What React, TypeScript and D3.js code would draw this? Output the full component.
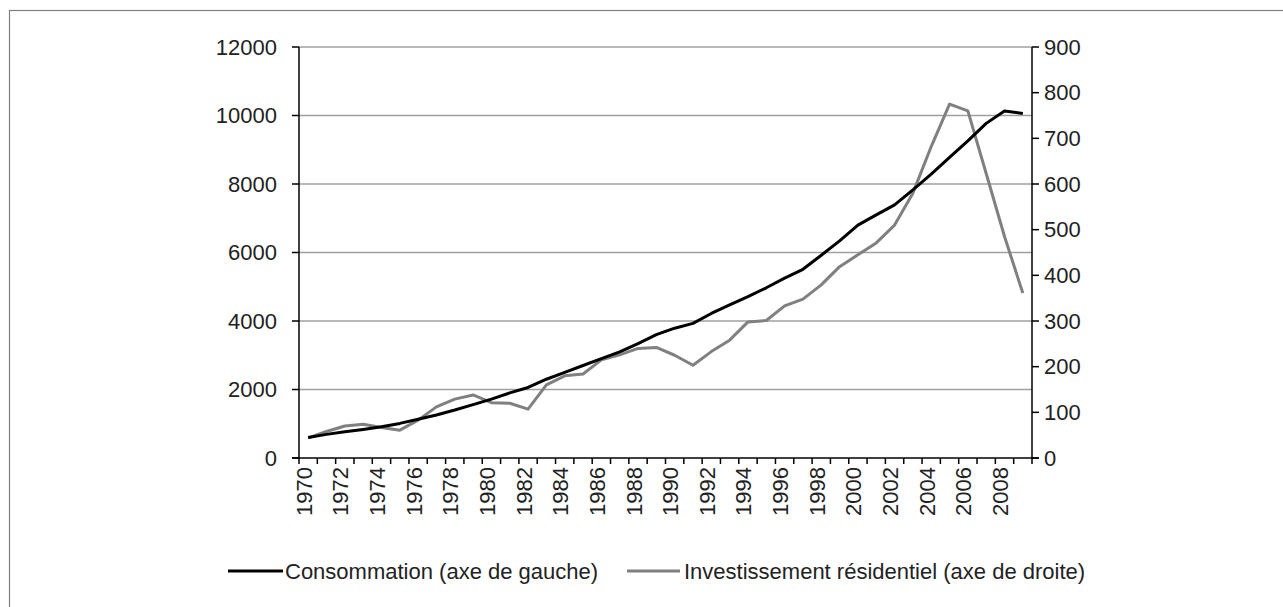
import React from "react";
import * as d3 from "d3";

const years: number[] = d3.range(1970, 2010);
const consommation: number[] = [
  600, 690, 765, 835, 910, 1010, 1130, 1255, 1400, 1560,
  1720, 1900, 2060, 2300, 2500, 2700, 2900, 3100, 3340, 3600,
  3790, 3930, 4220, 4470, 4710, 4970, 5250, 5510, 5920, 6340,
  6800, 7100, 7390, 7830, 8290, 8780, 9260, 9770, 10130, 10060,
];
const investissement: number[] = [
  44, 58, 70, 74, 67, 61, 83, 112, 129, 138,
  121, 120, 107, 160, 180, 184, 215, 226, 240, 242,
  225, 203, 233, 258, 298, 301, 333, 348, 379, 419,
  445, 471, 510, 580, 682, 775, 760, 623, 485, 361,
];
const leftTicks: number[] = [0, 2000, 4000, 6000, 8000, 10000, 12000];
const rightTicks: number[] = [0, 100, 200, 300, 400, 500, 600, 700, 800, 900];
const seriesNames: string[] = [
  "Consommation (axe de gauche)",
  "Investissement résidentiel (axe de droite)",
];
const seriesColors: string[] = ["#000000", "#808080"];

const W = 1283;
const H = 607;
const plot = { left: 299, right: 1032, top: 47, bottom: 458 };
const FONT = "'Liberation Sans Narrow', 'Liberation Sans', Arial, sans-serif";

export default function App() {
  const xBand = d3
    .scaleBand<number>()
    .domain(years)
    .range([plot.left, plot.right])
    .paddingInner(0)
    .paddingOuter(0);
  const xc = (y: number) => (xBand(y) as number) + xBand.bandwidth() / 2;
  const yL = d3.scaleLinear().domain([0, 12000]).range([plot.bottom, plot.top]);
  const yR = d3.scaleLinear().domain([0, 900]).range([plot.bottom, plot.top]);

  const lineL = d3
    .line<number>()
    .x((_, i) => xc(years[i]))
    .y((d) => yL(d));
  const lineR = d3
    .line<number>()
    .x((_, i) => xc(years[i]))
    .y((d) => yR(d));

  const boundaries = d3.range(years.length + 1).map(
    (i) => plot.left + i * xBand.bandwidth()
  );

  return (
    <svg
      width={W}
      height={H}
      style={{ position: "absolute", left: 0, top: 0, background: "#fff" }}
      fontFamily={FONT}
    >
      <rect x={0} y={0} width={W} height={H} fill="#fff" />
      <rect
        x={9.5}
        y={10.5}
        width={W + 20}
        height={H + 20}
        fill="none"
        stroke="#7f7f7f"
        strokeWidth={1.2}
      />
      {/* gridlines */}
      {leftTicks
        .filter((t) => t > 0)
        .map((t) => (
          <line
            key={"g" + t}
            x1={plot.left}
            x2={plot.right}
            y1={yL(t)}
            y2={yL(t)}
            stroke="#a0a0a0"
            strokeWidth={1.6}
          />
        ))}
      {/* left axis */}
      <line x1={plot.left} x2={plot.left} y1={plot.top} y2={plot.bottom} stroke="#000" strokeWidth={1.5} />
      {leftTicks.map((t) => (
        <g key={"l" + t}>
          <line x1={plot.left - 7} x2={plot.left} y1={yL(t)} y2={yL(t)} stroke="#000" strokeWidth={1.5} />
          <text
            x={277}
            y={yL(t)}
            textAnchor="end"
            dominantBaseline="central"
            fontSize={22}
            fill="#222"
          >
            {t}
          </text>
        </g>
      ))}
      {/* right axis */}
      <line x1={plot.right} x2={plot.right} y1={plot.top} y2={plot.bottom} stroke="#000" strokeWidth={1.5} />
      {rightTicks.map((t) => (
        <g key={"r" + t}>
          <line x1={plot.right} x2={plot.right + 7} y1={yR(t)} y2={yR(t)} stroke="#000" strokeWidth={1.5} />
          <text
            x={1044}
            y={yR(t)}
            textAnchor="start"
            dominantBaseline="central"
            fontSize={22}
            fill="#222"
          >
            {t}
          </text>
        </g>
      ))}
      {/* bottom axis */}
      <line x1={plot.left - 7} x2={plot.right + 7} y1={plot.bottom} y2={plot.bottom} stroke="#000" strokeWidth={1.5} />
      {boundaries.map((bx, i) => (
        <line key={"t" + i} x1={bx} x2={bx} y1={plot.bottom} y2={plot.bottom + 6} stroke="#000" strokeWidth={1.5} />
      ))}
      {years
        .filter((y) => y % 2 === 0)
        .map((y) => (
          <text
            key={"x" + y}
            transform={`translate(${xc(y) - 4},${plot.bottom + 9}) rotate(-90)`}
            textAnchor="end"
            dominantBaseline="central"
            fontSize={22}
            fill="#222"
          >
            {y}
          </text>
        ))}
      {/* series */}
      <path d={lineR(investissement) || ""} fill="none" stroke={seriesColors[1]} strokeWidth={3} strokeLinejoin="round" />
      <path d={lineL(consommation) || ""} fill="none" stroke={seriesColors[0]} strokeWidth={3} strokeLinejoin="round" />
      {/* legend */}
      <line x1={228} x2={283} y1={571} y2={571} stroke={seriesColors[0]} strokeWidth={3} />
      <text x={285} y={571} dominantBaseline="central" fontSize={22} fill="#222">
        {seriesNames[0]}
      </text>
      <line x1={627} x2={680} y1={571} y2={571} stroke={seriesColors[1]} strokeWidth={3} />
      <text x={684} y={571} dominantBaseline="central" fontSize={22} fill="#222">
        {seriesNames[1]}
      </text>
    </svg>
  );
}
